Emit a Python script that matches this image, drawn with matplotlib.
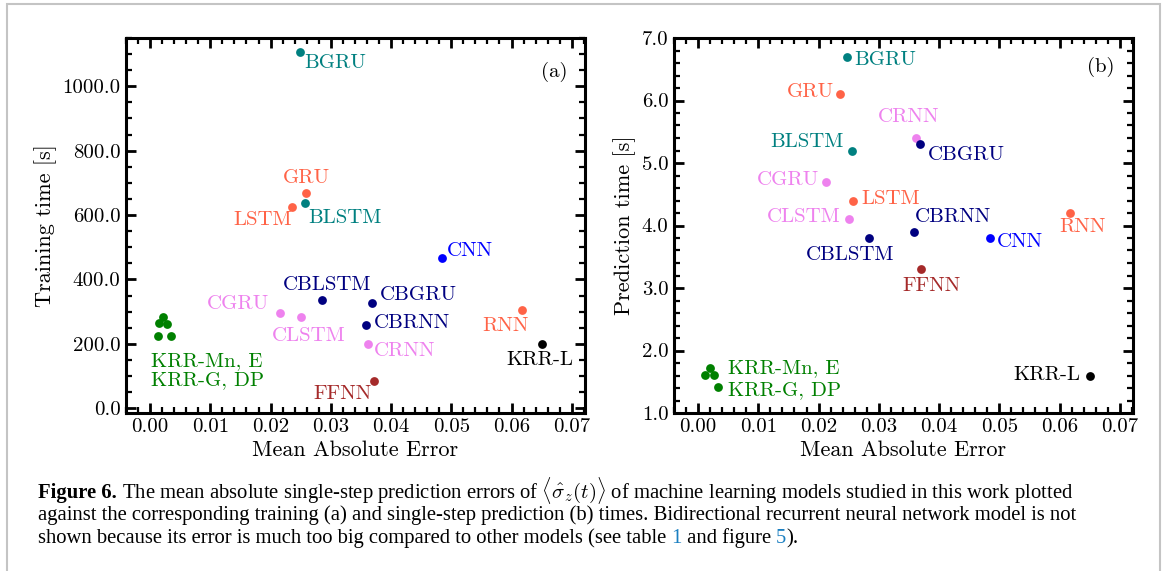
import matplotlib
matplotlib.use("Agg")
import matplotlib.pyplot as plt
from matplotlib import patches
from matplotlib.ticker import MultipleLocator, FormatStrFormatter

# ---- data ----
names_a = ['BGRU', 'GRU', 'BLSTM', 'LSTM', 'CNN', 'CBLSTM', 'CBGRU', 'CGRU',
           'CLSTM', 'CBRNN', 'RNN', 'CRNN', 'KRR-L', 'FFNN']
mae_a = [0.0249, 0.0258, 0.0257, 0.0236, 0.0485, 0.0285, 0.0369, 0.0215,
         0.0251, 0.0359, 0.0618, 0.0362, 0.0650, 0.0371]
train_time = [1108, 669, 636, 624, 467, 335, 327, 296, 282, 259, 305, 199, 199, 85]
krr_mae_a = [0.0022, 0.0014, 0.0028, 0.0013, 0.0034]
krr_train_time = [282, 264, 262, 224, 225]

names_b = ['BGRU', 'GRU', 'CRNN', 'CBGRU', 'BLSTM', 'CGRU', 'LSTM', 'RNN',
           'CLSTM', 'CBRNN', 'CBLSTM', 'CNN', 'FFNN', 'KRR-L']
mae_b = [0.0248, 0.0235, 0.0361, 0.0368, 0.0256, 0.0213, 0.0257, 0.0617,
         0.0250, 0.0358, 0.0284, 0.0484, 0.0370, 0.0650]
pred_time = [6.7, 6.1, 5.4, 5.3, 5.2, 4.7, 4.4, 4.2, 4.1, 3.9, 3.8, 3.8, 3.3, 1.6]
krr_mae_b = [0.0020, 0.0012, 0.0026, 0.0033]
krr_pred_time = [1.72, 1.61, 1.61, 1.41]

model_colors = {
    'BGRU': 'teal', 'BLSTM': 'teal',
    'GRU': 'tomato', 'LSTM': 'tomato', 'RNN': 'tomato',
    'CGRU': 'violet', 'CLSTM': 'violet', 'CRNN': 'violet',
    'CBGRU': 'navy', 'CBLSTM': 'navy', 'CBRNN': 'navy',
    'CNN': 'blue', 'FFNN': 'brown', 'KRR-L': 'black',
}
krr_color = 'green'

# ---- label placement (data coords, horizontal alignment) ----
labels_a = {
    'BGRU': (0.0256, 1072, 'left'), 'GRU': (0.0259, 716, 'center'),
    'LSTM': (0.0236, 584, 'right'), 'BLSTM': (0.0263, 592, 'left'),
    'CNN': (0.0493, 489, 'left'), 'CBLSTM': (0.0294, 383, 'center'),
    'CBGRU': (0.0382, 352, 'left'), 'CGRU': (0.0198, 323, 'right'),
    'CLSTM': (0.0263, 225, 'center'), 'CBRNN': (0.0372, 263, 'left'),
    'CRNN': (0.0372, 176, 'left'), 'RNN': (0.0590, 255, 'center'),
    'KRR-L': (0.0647, 148, 'center'), 'FFNN': (0.0320, 44, 'center'),
}
labels_b = {
    'BGRU': (0.0260, 6.64, 'left'), 'GRU': (0.0225, 6.14, 'right'),
    'CRNN': (0.0350, 5.73, 'center'), 'BLSTM': (0.0241, 5.33, 'right'),
    'CBGRU': (0.0381, 5.13, 'left'), 'CGRU': (0.0201, 4.73, 'right'),
    'LSTM': (0.0271, 4.43, 'left'), 'CLSTM': (0.0236, 4.13, 'right'),
    'CBRNN': (0.0423, 4.13, 'center'), 'RNN': (0.0638, 3.98, 'center'),
    'CNN': (0.0496, 3.73, 'left'), 'CBLSTM': (0.0253, 3.52, 'center'),
    'FFNN': (0.0388, 3.03, 'center'), 'KRR-L': (0.0635, 1.61, 'right'),
}

plt.rcParams['font.family'] = 'serif'
plt.rcParams['font.serif'] = ['cmr10']
plt.rcParams['mathtext.fontset'] = 'cm'
plt.rcParams['axes.formatter.use_mathtext'] = True

FS = 15
W, H = 1167, 571
fig = plt.figure(figsize=(W / 100, H / 100), dpi=100)
ax1 = fig.add_axes([126 / W, 1 - 413 / H, 459 / W, 375 / H])
ax2 = fig.add_axes([674 / W, 1 - 413 / H, 459 / W, 375 / H])


def style_axes(ax, ymajor, yminor, yfmt):
    for s in ax.spines.values():
        s.set_linewidth(2.2)
    ax.xaxis.set_major_locator(MultipleLocator(0.01))
    ax.xaxis.set_minor_locator(MultipleLocator(0.002))
    ax.yaxis.set_major_locator(MultipleLocator(ymajor))
    ax.yaxis.set_minor_locator(MultipleLocator(yminor))
    ax.xaxis.set_major_formatter(FormatStrFormatter('%.2f'))
    ax.yaxis.set_major_formatter(FormatStrFormatter(yfmt))
    ax.tick_params(which='both', direction='in', top=True, right=True,
                   labelsize=FS, pad=4)
    ax.tick_params(which='major', length=7, width=2)
    ax.tick_params(which='minor', length=4, width=1.6)
    ax.set_xlabel('Mean Absolute Error', fontsize=FS + 1, labelpad=3)


def draw_panel(ax, names, xs, ys, kx, ky, labels):
    for n, x, y in zip(names, xs, ys):
        ax.scatter(x, y, s=40, color=model_colors[n], zorder=3, linewidths=0)
        lx, ly, ha = labels[n]
        ax.text(lx, ly, n, color=model_colors[n], ha=ha, va='center', fontsize=FS)
    ax.scatter(kx, ky, s=40, color=krr_color, zorder=3, linewidths=0)


draw_panel(ax1, names_a, mae_a, train_time, krr_mae_a, krr_train_time, labels_a)
ax1.text(0.0002, 146, 'KRR-Mn, E', color=krr_color, ha='left', va='center', fontsize=FS)
ax1.text(0.0002, 86, 'KRR-G, DP', color=krr_color, ha='left', va='center', fontsize=FS)
ax1.text(0.0671, 1046, '(a)', ha='center', va='center', fontsize=FS)
ax1.set_xlim(-0.004, 0.0722)
ax1.set_ylim(-15, 1150)
style_axes(ax1, 200, 50, '%.1f')
ax1.set_ylabel('Training time [s]', fontsize=FS + 1, labelpad=4)

draw_panel(ax2, names_b, mae_b, pred_time, krr_mae_b, krr_pred_time, labels_b)
ax2.text(0.0050, 1.71, 'KRR-Mn, E', color=krr_color, ha='left', va='center', fontsize=FS)
ax2.text(0.0050, 1.36, 'KRR-G, DP', color=krr_color, ha='left', va='center', fontsize=FS)
ax2.text(0.0668, 6.53, '(b)', ha='center', va='center', fontsize=FS)
ax2.set_xlim(-0.004, 0.0722)
ax2.set_ylim(1.0, 7.0)
style_axes(ax2, 1.0, 0.2, '%.1f')
ax2.set_ylabel('Prediction time [s]', fontsize=FS + 1, labelpad=4)

# gray frame around figure + caption
fig.add_artist(patches.Rectangle((7 / W, -0.1), (1160 - 7) / W, 1.1 - 4 / H,
                                 transform=fig.transFigure, fill=False,
                                 edgecolor='#c4c4c4', linewidth=1.5))

cap_font = dict(family='Liberation Serif', fontsize=14.9)
link = '#1a7fc1'
caption = [
    [('Figure 6.', 'black', 'bold'),
     (' The mean absolute single-step prediction errors of '
      r'$\langle\hat{\sigma}_z(t)\rangle$'
      ' of machine learning models studied in this work plotted', 'black', 'normal')],
    [('against the corresponding training (a) and single-step prediction (b) times. '
      'Bidirectional recurrent neural network model is not', 'black', 'normal')],
    [('shown because its error is much too big compared to other models (see table ', 'black', 'normal'),
     ('1', link, 'normal'), (' and figure ', 'black', 'normal'),
     ('5', link, 'normal'), (').', 'black', 'normal')],
]
renderer = fig.canvas.get_renderer()
baselines = [498, 520, 543]
for pieces, yb in zip(caption, baselines):
    x = 38
    for s, c, w in pieces:
        t = fig.text(x / W, 1 - yb / H, s, color=c, fontweight=w, va='baseline',
                     ha='left', **cap_font)
        x += t.get_window_extent(renderer).width

fig.savefig('out.png', dpi=100)
